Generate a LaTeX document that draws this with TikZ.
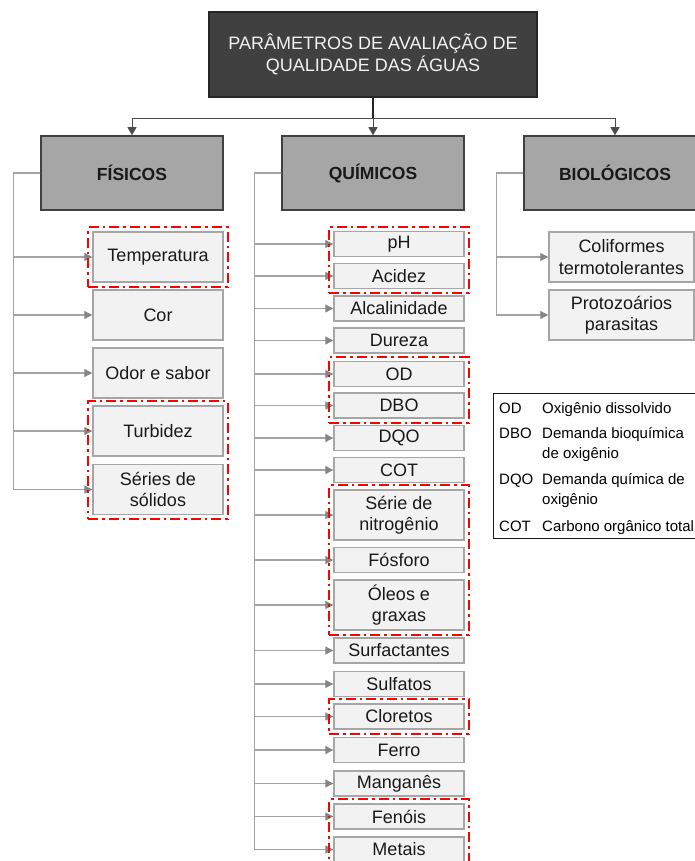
\documentclass[tikz,border=0pt]{standalone}
\usepackage{fontspec}
\setmainfont{Liberation Sans}
\usetikzlibrary{arrows.meta,fit}

\definecolor{topgray}{HTML}{404040}
\definecolor{catgray}{HTML}{A6A6A6}
\definecolor{itemfill}{HTML}{F2F2F2}
\definecolor{itemline}{HTML}{A6A6A6}
\definecolor{feedgray}{HTML}{A3A3A3}
\definecolor{tipgray}{HTML}{858585}

\tikzset{
  titlebox/.style={draw=black!85, line width=1.2pt, fill=topgray, text=white!95!black,
    minimum width=328pt, minimum height=85pt, align=center,
    font=\fontsize{18}{21.5}\selectfont},
  catbox/.style={draw=topgray, line width=1.5pt, fill=catgray, text=black!90,
    minimum width=182pt, minimum height=74pt, font=\fontsize{17.5}{21}\selectfont\bfseries},
  item/.style={draw=itemline, line width=1.4pt, fill=itemfill, text=black!90,
    minimum width=130pt, minimum height=25pt, inner sep=1pt, align=center,
    font=\fontsize{18}{21.5}\selectfont},
  tall/.style={minimum height=50pt},
  grp/.style={draw=red, line width=2.2pt, dash pattern=on 10pt off 4pt on 2.5pt off 4pt, inner sep=4pt},
  stem/.style={draw=black!85, line width=2pt},
  branch/.style={draw=black!70, line width=1pt, -{Triangle[length=8pt,width=9pt]}},
  feed/.style={draw=feedgray, line width=1.1pt, -{Triangle[length=8pt,width=8pt,color=tipgray]}},
  legtxt/.style={inner sep=0pt, anchor=north west, align=left, font=\fontsize{15}{20}\selectfont}
}

\begin{document}
\begin{tikzpicture}[x=1pt,y=-1pt]
  \useasboundingbox (0,0) rectangle (695,861);

  % heading and the three groups
  \node[titlebox] (top) at (373,54.5) {PARÂMETROS DE AVALIAÇÃO DE\\QUALIDADE DAS ÁGUAS};
  \node[catbox] (fis) at (132,173) {FÍSICOS};
  \node[catbox] (qui) at (373,173) {QUÍMICOS};
  \node[catbox] (bio) at (615,173) {BIOLÓGICOS};

  \draw[stem] (top.south) -- ++(0,21) coordinate (hub);
  \foreach \c in {fis,qui,bio}
    \draw[branch] (hub) -| (\c.north);

  % physical parameters
  \node[item, tall] (temp) at (158,257) {Temperatura};
  \node[item, tall] (cor)  at (158,315) {Cor};
  \node[item, tall] (odor) at (158,373) {Odor e sabor};
  \node[item, tall] (turb) at (158,431) {Turbidez};
  \node[item, tall] (soli) at (158,489.5) {Séries de\\sólidos};

  % chemical parameters
  \node[item] (ph)   at (399,244) {pH};
  \node[item] (acid) at (399,276) {Acidez};
  \node[item] (alca) at (399,308.5) {Alcalinidade};
  \node[item] (dure) at (399,340.5) {Dureza};
  \node[item] (od)   at (399,374) {OD};
  \node[item] (dbo)  at (399,405.5) {DBO};
  \node[item] (dqo)  at (399,438) {DQO};
  \node[item] (cot)  at (399,470) {COT};
  \node[item, tall] (nitr) at (399,515) {Série de\\nitrogênio};
  \node[item] (fosf) at (399,560) {Fósforo};
  \node[item, tall] (oleo) at (399,605) {Óleos e\\graxas};
  \node[item] (surf) at (399,650.5) {Surfactantes};
  \node[item] (sulf) at (399,684) {Sulfatos};
  \node[item] (clor) at (399,716.5) {Cloretos};
  \node[item] (ferr) at (399,750) {Ferro};
  \node[item] (mang) at (399,783.5) {Manganês};
  \node[item] (feno) at (399,816.5) {Fenóis};
  \node[item] (meta) at (399,849.5) {Metais};

  % biological parameters
  \node[item, tall, minimum width=145pt] (coli) at (621.5,257) {Coliformes\\termotolerantes};
  \node[item, tall, minimum width=145pt] (prot) at (621.5,315) {Protozoários\\parasitas};

  % feeders
  \foreach \n in {temp,cor,odor,turb,soli}
    \draw[feed] (fis.west) -- ++(-27,0) |- (\n.west);
  \foreach \n in {ph,acid,alca,dure,od,dbo,dqo,cot,nitr,fosf,oleo,surf,sulf,clor,ferr,mang,feno,meta}
    \draw[feed] (qui.west) -- ++(-27,0) |- (\n.west);
  \foreach \n in {coli,prot}
    \draw[feed] (bio.west) -- ++(-27,0) |- (\n.west);

  % highlighted groups
  \node[grp, fit=(temp)] (gTemp) {};
  \node[grp, fit=(turb)(soli)] (gTurb) {};
  \node[grp, fit=(ph)(acid)] (gPh) {};
  \node[grp, fit=(od)(dbo)] (gOd) {};
  \node[grp, fit=(nitr)(fosf)(oleo)] (gNitr) {};
  \node[grp, fit=(clor)] (gClor) {};
  \node[grp, fit=(feno)(meta)] (gFeno) {};

  % abbreviations
  \node[draw=black!90, line width=1.3pt, minimum width=220pt, minimum height=145pt,
        anchor=north west, inner sep=0pt] (legend) at (493,393) {};
  \node[legtxt] (aOd)  at (499,399.5) {\strut OD};
  \node[legtxt] (tOd)  at (542,399.5) {\strut Oxigênio dissolvido};
  \node[legtxt] (aDbo) at (499,424.5) {\strut DBO};
  \node[legtxt] (tDbo) at (542,424.5) {\strut Demanda bioquímica\\\strut de oxigênio};
  \node[legtxt] (aDqo) at (499,470) {\strut DQO};
  \node[legtxt] (tDqo) at (542,470) {\strut Demanda química de\\\strut oxigênio};
  \node[legtxt] (aCot) at (499,517.5) {\strut COT};
  \node[legtxt] (tCot) at (542,517.5) {\strut Carbono orgânico total};
\end{tikzpicture}
\end{document}
